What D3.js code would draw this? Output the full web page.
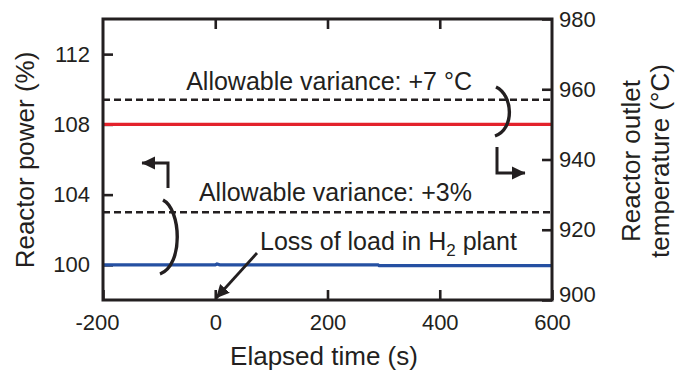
<!DOCTYPE html>
<html>
<head>
<meta charset="utf-8">
<script src="https://cdn.jsdelivr.net/npm/d3@7"></script>
<style>
    body { margin: 0; background: #fff; }
    text { font-family: "Liberation Sans", Arial, sans-serif; fill: #231f20; }
</style>
</head>
<body>
<svg id="chart" width="675" height="371"></svg>
<script>
// data
const timeTicks = [-200, 0, 200, 400, 600];
const powerTicks = [100, 104, 108, 112];
const tempTicks = [900, 920, 940, 960, 980];

const powerTime = [-200, 0, 3, 8, 290, 292, 600];
const powerValues = [100, 100, 100.05, 100, 100, 99.96, 99.96];
const tempTime = [-200, 600];
const tempValues = [950, 950];

const powerLimit = 103;   // 100 + 3 %
const tempLimit = 957;    // 950 + 7 °C

const margin = { top: 19, right: 123, bottom: 71, left: 103 };
const width = 675 - margin.left - margin.right;
const height = 371 - margin.top - margin.bottom;

const svg = d3.select("#chart");
const g = svg.append("g").attr("transform", `translate(${margin.left},${margin.top})`);

const x = d3.scaleLinear().domain([-200, 600]).range([0, width]);
const yL = d3.scaleLinear().domain([98, 114]).range([height, 0]);
const yR = d3.scaleLinear().domain([900, 980]).range([height, 0]);

const plain = d => String(d);   // keep the hyphen in "-200"

// axes, ticks pointing inward
const styleAxis = sel => {
    sel.select(".domain").remove();
    sel.selectAll(".tick line").attr("stroke", "#231f20").attr("stroke-width", 2.6);
    sel.selectAll(".tick text").style("font-size", "22px").attr("fill", "#231f20");
};

g.append("g")
    .call(d3.axisLeft(yL).tickValues(powerTicks).tickFormat(plain).tickSizeInner(-10).tickSizeOuter(0).tickPadding(13))
    .call(styleAxis);

g.append("g")
    .attr("transform", `translate(${width},0)`)
    .call(d3.axisRight(yR).tickValues(tempTicks).tickFormat(plain).tickSizeInner(-10).tickSizeOuter(0).tickPadding(7))
    .call(styleAxis)
    .selectAll(".tick text")
    .attr("dy", d => d === 900 ? "0.05em" : "0.32em");

g.append("g")
    .attr("transform", `translate(0,${height})`)
    .call(d3.axisBottom(x).tickValues(timeTicks).tickFormat(plain).tickSizeInner(-10).tickSizeOuter(0).tickPadding(14))
    .call(styleAxis)
    .selectAll(".tick text")
    .attr("dx", d => d === -200 ? -6 : 0);

g.append("g")
    .call(d3.axisTop(x).tickValues(timeTicks.slice(1, -1)).tickSizeInner(-10).tickSizeOuter(0).tickFormat(""))
    .call(styleAxis);

// allowable variance limits
g.append("line")
    .attr("x1", x(-200)).attr("x2", x(600))
    .attr("y1", yR(tempLimit)).attr("y2", yR(tempLimit))
    .attr("stroke", "#231f20").attr("stroke-width", 2.6).attr("stroke-dasharray", "7,4");

g.append("line")
    .attr("x1", x(-200)).attr("x2", x(600))
    .attr("y1", yL(powerLimit)).attr("y2", yL(powerLimit))
    .attr("stroke", "#231f20").attr("stroke-width", 2.6).attr("stroke-dasharray", "7,4");

// series
const tempLine = d3.line().x((d, i) => x(tempTime[i])).y(d => yR(d));
const powerLine = d3.line().x((d, i) => x(powerTime[i])).y(d => yL(d));

g.append("path")
    .attr("d", tempLine(tempValues))
    .attr("fill", "none").attr("stroke", "#e3222b").attr("stroke-width", 3.3);

g.append("path")
    .attr("d", powerLine(powerValues))
    .attr("fill", "none").attr("stroke", "#2550a2").attr("stroke-width", 3.3);

// frame
g.append("rect")
    .attr("width", width).attr("height", height)
    .attr("fill", "none").attr("stroke", "#231f20").attr("stroke-width", 3);

// arrow head marker
svg.append("defs").append("marker")
    .attr("id", "head")
    .attr("markerUnits", "userSpaceOnUse")
    .attr("viewBox", "0 -7 14 14")
    .attr("markerWidth", 14).attr("markerHeight", 14)
    .attr("refX", 13).attr("refY", 0)
    .attr("orient", "auto")
    .append("path")
    .attr("d", "M0,-6.5L13.5,0L0,6.5Z")
    .attr("fill", "#231f20");

const ann = svg.append("g");

// brackets
ann.append("path")
    .attr("d", "M163,200 C181,209 184,265 160,274")
    .attr("fill", "none").attr("stroke", "#231f20").attr("stroke-width", 3.4);
ann.append("path")
    .attr("d", "M496,87 C513,95 515,129 495,136")
    .attr("fill", "none").attr("stroke", "#231f20").attr("stroke-width", 3.4);

// bent arrows pointing at the axes
ann.append("path")
    .attr("d", "M168,188 V163 H142")
    .attr("fill", "none").attr("stroke", "#231f20").attr("stroke-width", 3)
    .attr("marker-end", "url(#head)");
ann.append("path")
    .attr("d", "M497,147 V173 H525")
    .attr("fill", "none").attr("stroke", "#231f20").attr("stroke-width", 3)
    .attr("marker-end", "url(#head)");

// loss of load arrow
ann.append("line")
    .attr("x1", 257).attr("y1", 253)
    .attr("x2", margin.left + x(0) + 1).attr("y2", margin.top + height - 2)
    .attr("stroke", "#231f20").attr("stroke-width", 2.8)
    .attr("marker-end", "url(#head)");

// annotation texts
ann.append("text")
    .attr("x", 472).attr("y", 90).attr("text-anchor", "end")
    .style("font-size", "25px")
    .text("Allowable variance: +7 °C");

ann.append("text")
    .attr("x", 472).attr("y", 201).attr("text-anchor", "end")
    .style("font-size", "25px")
    .text("Allowable variance: +3%");

const loss = ann.append("text")
    .attr("x", 260).attr("y", 250)
    .style("font-size", "25px");
loss.append("tspan").text("Loss of load in H");
loss.append("tspan").attr("dy", 6).style("font-size", "17px").text("2");
loss.append("tspan").attr("dy", -6).text(" plant");

// axis titles
svg.append("text")
    .attr("x", 324).attr("y", 365).attr("text-anchor", "middle")
    .style("font-size", "26px")
    .text("Elapsed time (s)");

svg.append("text")
    .attr("transform", "translate(34,160) rotate(-90)")
    .attr("text-anchor", "middle")
    .style("font-size", "26px")
    .text("Reactor power (%)");

const rt = svg.append("text")
    .attr("transform", "translate(640,161) rotate(-90)")
    .attr("text-anchor", "middle")
    .style("font-size", "26px");
rt.append("tspan").attr("x", 0).attr("dy", 0).text("Reactor outlet");
rt.append("tspan").attr("x", 0).attr("dy", 29).text("temperature (°C)");
</script>
</body>
</html>
